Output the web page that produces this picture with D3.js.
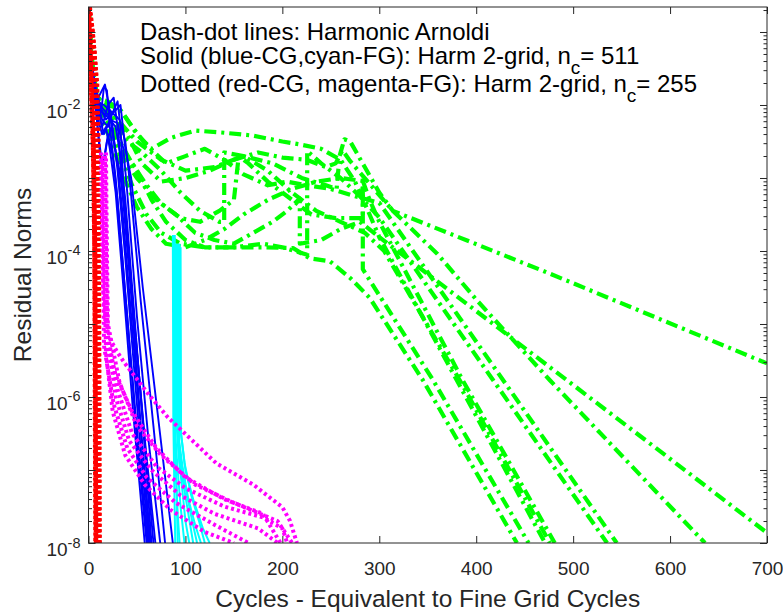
<!DOCTYPE html>
<html>
<head>
<meta charset="utf-8">
<script src="https://cdn.jsdelivr.net/npm/d3@7"></script>
<style>
  body { margin: 0; background: #fff; }
  text { font-family: "Liberation Sans", Arial, Helvetica, sans-serif; }
</style>
</head>
<body>
<script>
// every run is a list of [cycles, log10(residual norm)]

// dash-dot: Harmonic Arnoldi
const greenRuns = [
  [[0,-0.66],[2,-1.3],[6,-1.8],[15,-2.0],[30,-2.2],[50,-2.5],[75,-2.75],[100,-2.9],[130,-2.85],[160,-2.7],[190,-2.8],[220,-3.0],[245,-3.1],[256,-3.15],[259,-2.7],[264,-2.47],[270,-2.5],[285,-2.85],[300,-3.2],[314,-3.45],[476,-4.31],[700,-5.54]],
  [[0,-0.66],[3,-1.4],[8,-1.9],[20,-1.95],[35,-2.1],[50,-2.4],[65,-2.6],[85,-2.45],[110,-2.35],[140,-2.38],[170,-2.42],[200,-2.5],[218,-2.54],[240,-2.6],[260,-2.75],[275,-3.05],[290,-3.5],[300,-3.81],[493.6,-5.77],[700,-7.86]],
  [[0,-0.66],[3,-1.5],[10,-2.0],[25,-2.15],[40,-2.4],[55,-2.8],[75,-3.05],[100,-3.0],[125,-2.9],[150,-2.75],[175,-2.65],[200,-2.72],[225,-2.75],[245,-2.85],[255,-2.8],[262,-2.62],[270,-2.77],[314,-3.45],[360,-4.04],[401,-4.68],[476,-5.77],[636,-8]],
  [[0,-0.66],[3,-1.4],[9,-1.9],[20,-2.0],[32,-2.05],[45,-2.3],[60,-2.55],[80,-2.8],[100,-2.7],[120,-2.6],[140,-2.75],[160,-2.95],[185,-3.1],[205,-3.05],[225,-3.1],[250,-3.15],[275,-3.25],[300,-3.34],[427.8,-5.77],[545,-8]],
  [[0,-0.66],[3,-1.5],[10,-2.05],[22,-2.3],[35,-2.6],[50,-2.9],[65,-3.3],[80,-3.6],[100,-3.85],[120,-3.95],[150,-3.95],[180,-3.9],[200,-3.95],[225.6,-4.05],[225.6,-2.63],[240,-2.8],[260,-3.0],[280,-3.25],[300,-3.54],[417.5,-5.77],[535,-8]],
  [[0,-0.66],[3,-1.3],[8,-1.85],[18,-2.1],[30,-2.45],[45,-2.8],[60,-3.1],[75,-3.35],[95,-3.55],[115,-3.6],[135,-3.45],[150,-3.3],[155,-2.7],[165,-2.8],[185,-3.05],[210,-3.3],[230,-3.5],[255,-3.55],[283,-3.55],[283,-3.04],[290,-3.3],[300,-3.6],[386,-5.77],[481,-8]],
  [[0,-0.66],[3,-1.4],[9,-1.95],[20,-2.25],[35,-2.7],[50,-3.0],[70,-3.3],[90,-3.5],[110,-3.75],[130,-3.85],[150,-3.9],[170,-3.75],[190,-3.6],[205,-3.45],[218,-3.28],[218,-3.9],[240,-3.85],[260,-3.7],[280,-3.6],[300,-3.81],[380,-5.77],[471,-8]],
  [[0,-0.66],[3,-1.5],[10,-2.1],[22,-2.45],[35,-2.95],[50,-3.4],[65,-3.7],[80,-3.9],[100,-3.95],[120,-3.85],[140,-3.7],[160,-3.5],[185,-3.3],[210,-3.15],[235,-3.05],[260,-3.0],[283,-3.04],[283,-4.25],[355.5,-5.77],[454,-8]],
  [[0,-0.66],[3,-1.4],[8,-1.9],[18,-2.2],[30,-2.6],[45,-3.1],[60,-3.5],[75,-3.75],[95,-3.9],[120,-3.95],[150,-3.95],[180,-3.95],[211,-3.96],[228,-4.1],[249,-4.14],[270,-4.37],[290,-4.64],[345,-5.77],[442,-8]],
  [[0,-0.66],[3,-1.45],[10,-2.0],[25,-2.2],[40,-2.5],[55,-2.65],[75,-2.9],[95,-3.2],[115,-3.45],[135,-3.6],[140,-3.6],[140,-2.65],[160,-2.7],[185,-2.9],[210,-3.2],[235,-3.45],[260,-3.6],[285,-3.75],[305,-4.0],[383,-5.77],[476,-8]]
];

// solid blue: coarse grid phase, n_c = 511
const blueRuns = [
  [[0,-0.7],[3,-1.5],[6,-1.9],[10,-2.2],[14,-2.4],[18,-2.3],[22,-2.6],[28,-3.2],[36,-4.5],[46,-6.2],[58,-8]],
  [[0,-0.7],[3,-1.6],[7,-2.0],[11,-2.5],[14,-2.8],[17,-2.7],[20,-2.4],[25,-2.7],[30,-3.3],[40,-4.9],[50,-6.6],[60,-8]],
  [[0,-0.8],[4,-1.7],[9,-1.9],[13,-2.1],[16,-1.75],[19,-1.8],[22,-2.3],[28,-3.0],[38,-4.6],[49,-6.3],[61,-8]],
  [[0,-0.7],[3,-1.4],[8,-1.8],[12,-2.0],[18,-2.1],[24,-2.2],[30,-2.9],[38,-4.1],[50,-6.1],[62,-8]],
  [[0,-0.75],[4,-1.6],[8,-2.1],[12,-2.7],[15,-2.8],[19,-2.5],[24,-2.3],[30,-2.8],[36,-3.6],[46,-5.2],[56,-6.8],[63,-8]],
  [[0,-0.7],[4,-1.7],[9,-2.0],[14,-2.3],[20,-2.0],[26,-1.9],[31,-2.4],[35,-3.2],[44,-4.6],[54,-6.4],[64,-8]],
  [[0,-0.7],[3,-1.5],[8,-1.95],[15,-2.1],[22,-2.2],[28,-2.3],[33,-2.7],[38,-3.3],[48,-5.0],[58,-6.7],[65,-8]],
  [[0,-0.7],[3,-1.5],[8,-1.9],[14,-2.2],[20,-2.3],[25,-2.1],[30,-1.95],[33,-2.3],[36,-3.1],[45,-4.6],[56,-6.3],[67,-8]],
  [[0,-0.7],[4,-1.6],[10,-1.9],[17,-1.72],[21,-2.0],[26,-2.5],[32,-2.9],[38,-3.5],[48,-5.1],[59,-6.7],[69,-8]],
  [[0,-0.75],[4,-1.7],[10,-2.1],[16,-2.4],[22,-2.2],[30,-2.25],[36,-2.6],[40,-3.2],[50,-4.9],[62,-6.6],[74,-8]],
  [[0,-0.7],[3,-1.5],[9,-1.95],[16,-2.0],[24,-2.1],[32,-2.2],[38,-2.5],[43,-3.1],[54,-4.7],[67,-6.4],[79,-8]],
  [[0,-0.7],[4,-1.6],[10,-2.0],[18,-2.2],[26,-2.1],[33,-2.0],[38,-2.6],[44,-3.0],[56,-4.5],[72,-6.3],[87,-8]]
];

// solid cyan: fine grid phase, n_c = 511
const cyanRuns = [
  [[87,-3.78],[87.5,-6.3],[88.5,-7.2],[89.5,-8]],
  [[88,-3.78],[88.5,-6.4],[90,-7.0],[92,-7.6],[94,-8]],
  [[89,-3.9],[89.5,-6.5],[92,-7.0],[95,-7.5],[99,-8]],
  [[90,-3.9],[90.5,-6.3],[93,-6.8],[97,-7.3],[100,-7.7],[104,-8]],
  [[91,-3.9],[91.5,-6.4],[94,-6.9],[98,-7.2],[103,-7.6],[108,-8]],
  [[92,-3.9],[92.5,-6.5],[96,-7.0],[101,-7.3],[107,-7.7],[112,-8]],
  [[93,-3.9],[93.5,-6.6],[97,-6.95],[103,-7.4],[110,-7.75],[116,-8]],
  [[94,-3.9],[94.5,-6.4],[99,-6.9],[106,-7.35],[114,-7.7],[120,-8]],
  [[95,-3.95],[95.5,-6.5],[100,-7.0],[108,-7.4],[118,-7.8],[125,-8]],
  [[89,-3.78],[89.5,-6.7],[91,-7.3],[92,-8]]
];

// dotted red: coarse grid phase, n_c = 255
const redRuns = [
  [[0,-0.66],[2,-1.0],[4,-1.5],[6,-2.0],[7,-3],[8,-5],[8.5,-8]],
  [[0,-0.66],[3,-0.9],[6,-1.3],[8,-1.9],[9,-3],[9.5,-5],[10,-8]],
  [[1,-0.66],[4,-1.0],[7,-1.5],[9,-2.2],[10,-3.5],[10.5,-6],[11,-8]],
  [[0,-0.7],[1.5,-1.2],[3,-1.8],[5,-2.6],[6.5,-4],[7.5,-8]],
  [[0,-0.66],[2.5,-1.2],[5,-1.7],[7,-2.4],[8,-3.5],[9,-8]],
  [[0.5,-0.66],[5,-1.2],[8.5,-1.7],[10,-2.5],[10.5,-4],[11,-8]],
  [[0,-0.66],[1,-1.1],[2.5,-1.6],[4.5,-2.2],[6,-3.2],[7,-5],[8,-8]],
  [[0.5,-0.66],[3.5,-1.1],[6.5,-1.6],[8.5,-2.4],[9.5,-4.2],[10,-6.5],[10.5,-8]]
];

// dotted magenta: fine grid phase, n_c = 255
const magentaRuns = [
  [[13,-2.65],[14,-3.5],[15,-4.5],[17,-4.9],[22,-5.2],[29,-5.37],[37.5,-5.54],[63,-5.98],[82,-6.28],[132,-6.91],[170,-7.2],[200,-7.51],[208,-7.7],[215,-8]],
  [[15,-2.7],[16,-3.8],[17,-4.6],[18,-5.0],[30,-5.9],[45,-6.5],[70,-6.95],[100,-7.25],[140,-7.5],[180,-7.65],[200,-7.8],[205,-8]],
  [[17,-2.7],[18,-3.9],[19,-4.8],[20,-5.2],[28,-6.0],[42,-6.6],[65,-7.0],[95,-7.35],[130,-7.6],[175,-7.8],[195,-8]],
  [[14,-2.75],[15,-4.0],[16,-5.3],[26,-6.1],[40,-6.7],[60,-7.1],[90,-7.45],[130,-7.75],[165,-8]],
  [[16,-2.7],[17,-4.2],[18,-5.4],[25,-6.2],[38,-6.8],[58,-7.2],[85,-7.55],[120,-7.85],[150,-8]],
  [[18,-2.65],[19,-4.0],[20,-5.0],[32,-5.8],[50,-6.4],[75,-6.8],[110,-7.2],[150,-7.45],[195,-7.7],[210,-8]],
  [[15,-2.7],[16,-4.1],[18,-5.2],[28,-5.7],[45,-6.2],[70,-6.7],[100,-7.1],[140,-7.4],[180,-7.6],[198,-8]]
];

const xTicks = [0, 100, 200, 300, 400, 500, 600, 700];
const yLabelPowers = [-8, -6, -4, -2];
const xDomain = [0, 700];
const yDomain = [1e-8, 0.22];

const xTitle = 'Cycles - Equivalent to Fine Grid Cycles';
const yTitle = 'Residual Norms';
const noteLines = [
  ['Dash-dot lines: Harmonic Arnoldi'],
  ['Solid (blue-CG,cyan-FG): Harm 2-grid, n', 'c', '= 511'],
  ['Dotted (red-CG, magenta-FG): Harm 2-grid, n', 'c', '= 255']
];

// ---- layout ----
const W = 783, H = 613;
const plot = {left: 88.5, right: 767, top: 7, bottom: 543};
const axisColor = '#262626';

const svg = d3.select(document.body).append('svg')
  .attr('width', W)
  .attr('height', H);

const x = d3.scaleLinear().domain(xDomain).range([plot.left, plot.right]);
const y = d3.scaleLog().domain(yDomain).range([plot.bottom, plot.top]);

svg.append('defs').append('clipPath').attr('id', 'clip')
  .append('rect')
  .attr('x', plot.left).attr('y', plot.top)
  .attr('width', plot.right - plot.left)
  .attr('height', plot.bottom - plot.top);

const line = d3.line()
  .x(d => x(d[0]))
  .y(d => y(Math.pow(10, d[1])));

const families = [
  {runs: greenRuns, color: '#00ff00', width: 4.2, dash: '12,5,3,5'},
  {runs: blueRuns, color: '#0000ff', width: 1.9, dash: null},
  {runs: cyanRuns, color: '#00ffff', width: 2, dash: null},
  {runs: redRuns, color: '#ff0000', width: 5, dash: '3,2.5'},
  {runs: magentaRuns, color: '#ff00ff', width: 4, dash: '3,3'}
];

const lines = svg.append('g').attr('clip-path', 'url(#clip)');
families.forEach(f => {
  lines.append('g').selectAll('path')
    .data(f.runs)
    .enter().append('path')
    .attr('d', line)
    .attr('fill', 'none')
    .attr('stroke', f.color)
    .attr('stroke-width', f.width)
    .attr('stroke-linejoin', 'round')
    .attr('stroke-dasharray', f.dash);
});

// ---- axes (ticks point inward, box all round) ----
const decades = d3.range(-8, 0).map(p => Math.pow(10, p));
const minors = [];
d3.range(-8, 0).forEach(p => {
  for (let k = 2; k <= 9; k++) {
    const v = k * Math.pow(10, p);
    if (v <= yDomain[1]) minors.push(v);
  }
});

function styleAxis(g) {
  g.select('.domain').remove();
  g.selectAll('line').attr('stroke', axisColor).attr('stroke-width', 1);
  g.selectAll('text')
    .attr('fill', axisColor)
    .style('font-size', '19px');
}

svg.append('g')
  .attr('transform', `translate(0,${plot.bottom})`)
  .call(d3.axisBottom(x).tickValues(xTicks).tickSize(-7).tickPadding(18.5).tickFormat(d3.format('d')))
  .call(styleAxis);

svg.append('g')
  .attr('transform', `translate(0,${plot.top})`)
  .call(d3.axisTop(x).tickValues(xTicks).tickSize(-7).tickFormat(''))
  .call(styleAxis);

const yMajor = svg.append('g')
  .attr('transform', `translate(${plot.left},0)`)
  .call(d3.axisLeft(y).tickValues(decades).tickSize(-7).tickFormat(''))
  .call(styleAxis);

// exponent labels 10^p
yMajor.selectAll('.tick')
  .filter(d => yLabelPowers.includes(Math.round(Math.log10(d))))
  .append('text')
  .attr('x', -8)
  .attr('dy', 12.5)
  .attr('text-anchor', 'end')
  .attr('fill', axisColor)
  .style('font-size', '19px')
  .each(function(d) {
    const t = d3.select(this);
    t.append('tspan').text('10');
    t.append('tspan').attr('dy', -8.5).style('font-size', '14.5px')
      .text('-' + Math.abs(Math.round(Math.log10(d))));
  });

svg.append('g')
  .attr('transform', `translate(${plot.left},0)`)
  .call(d3.axisLeft(y).tickValues(minors).tickSize(-3.5).tickFormat(''))
  .call(styleAxis);

svg.append('g')
  .attr('transform', `translate(${plot.right},0)`)
  .call(d3.axisRight(y).tickValues(decades).tickSize(-7).tickFormat(''))
  .call(styleAxis);

svg.append('g')
  .attr('transform', `translate(${plot.right},0)`)
  .call(d3.axisRight(y).tickValues(minors).tickSize(-3.5).tickFormat(''))
  .call(styleAxis);

svg.append('rect')
  .attr('x', plot.left).attr('y', plot.top)
  .attr('width', plot.right - plot.left)
  .attr('height', plot.bottom - plot.top)
  .attr('fill', 'none')
  .attr('stroke', axisColor)
  .attr('stroke-width', 1);

// ---- titles ----
svg.append('text')
  .attr('x', (plot.left + plot.right) / 2)
  .attr('y', 607)
  .attr('text-anchor', 'middle')
  .attr('fill', axisColor)
  .style('font-size', '24.5px')
  .text(xTitle);

svg.append('text')
  .attr('transform', `translate(30.5,${(plot.top + plot.bottom) / 2}) rotate(-90)`)
  .attr('text-anchor', 'middle')
  .attr('fill', axisColor)
  .style('font-size', '24.5px')
  .text(yTitle);

// ---- notes inside the axes ----
const noteY = [40, 63.5, 91.5];
noteLines.forEach((parts, i) => {
  const t = svg.append('text')
    .attr('x', 140)
    .attr('y', noteY[i])
    .attr('fill', '#000')
    .style('font-size', '24px');
  t.append('tspan').text(parts[0]);
  if (parts.length > 1) {
    t.append('tspan').attr('dy', 10).style('font-size', '19px').text(parts[1]);
    t.append('tspan').attr('dy', -10).text(parts[2]);
  }
});
</script>
</body>
</html>
